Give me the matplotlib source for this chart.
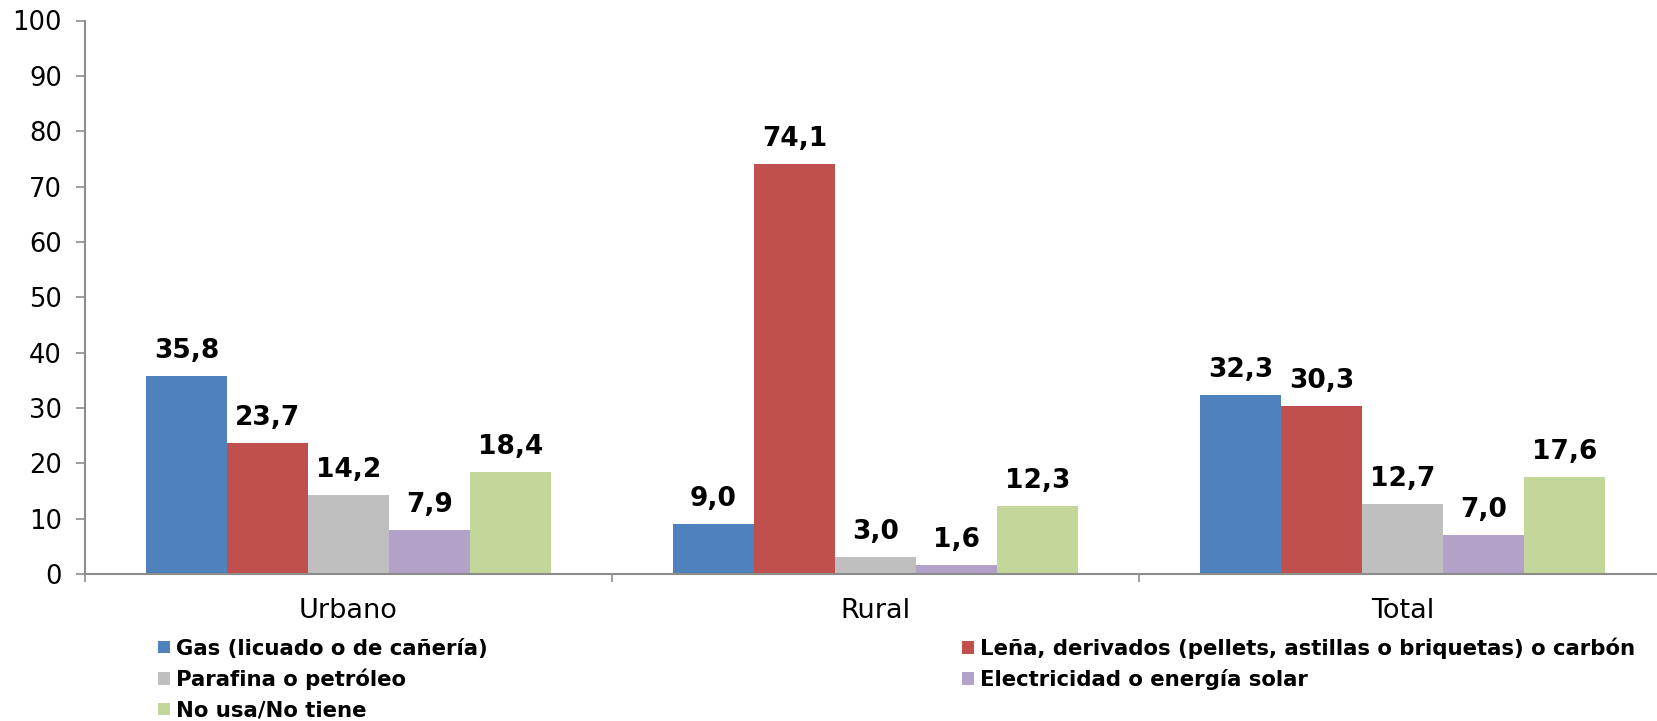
import numpy as np
import matplotlib.pyplot as plt
from matplotlib.patches import Patch

plt.rcParams['font.family'] = ['DejaVu Sans']

# data
categories = ["Urbano", "Rural", "Total"]
series_names = [
    "Gas (licuado o de cañería)",
    "Leña, derivados (pellets, astillas o briquetas) o carbón",
    "Parafina o petróleo",
    "Electricidad o energía solar",
    "No usa/No tiene",
]
gas = [35.8, 9.0, 32.3]
lena = [23.7, 74.1, 30.3]
parafina = [14.2, 3.0, 12.7]
electricidad = [7.9, 1.6, 7.0]
no_usa = [18.4, 12.3, 17.6]
colors = ["#4F81BD", "#C0504D", "#BFBFBF", "#B2A2C7", "#C4D79B"]

series = [gas, lena, parafina, electricidad, no_usa]

W, H = 1657, 721
fig = plt.figure(figsize=(W / 100, H / 100), dpi=100)
# plot area: x from 85px, one category = 527px (right part is cut off by the image edge)
ax = fig.add_axes([85 / W, 1 - 574 / H, 3 * 527 / W, (574 - 20.5) / H])

x = np.arange(len(categories))
w = 0.1537
for i, vals in enumerate(series):
    pos = x + (i - 2) * w
    bars = ax.bar(pos, vals, width=w, color=colors[i], edgecolor="none")
    for b, v in zip(bars, vals):
        ax.annotate(f"{v:.1f}".replace(".", ","), (b.get_x() + w / 2, v),
                    xytext=(0, 13), textcoords="offset points",
                    ha="center", va="baseline", fontsize=19, fontweight="bold")

ax.set_xlim(-0.5, 2.5)
ax.set_ylim(0, 100)
ax.set_yticks(range(0, 101, 10))
ax.tick_params(axis="y", labelsize=18.5, length=6.5, width=1.2, color="#8C8C8C", pad=10)

ax.set_xticks(x)
ax.set_xticklabels(categories, fontsize=19.5)
ax.tick_params(axis="x", length=0, pad=17)
ax.set_xticks([-0.5, 0.5, 1.5, 2.5], minor=True)
ax.tick_params(axis="x", which="minor", length=6, width=1.2, color="#8C8C8C")

for s in ["top", "right"]:
    ax.spines[s].set_visible(False)
for s in ["left", "bottom"]:
    ax.spines[s].set_color("#8C8C8C")
    ax.spines[s].set_linewidth(1.5)

# legend in two columns, placed separately
legend_kw = dict(loc="center left", frameon=False,
                 prop={"size": 15.3, "weight": "bold"},
                 handlelength=0.55, handleheight=0.55, handletextpad=0.3,
                 labelspacing=0.48, borderaxespad=0, borderpad=0)
col1 = [0, 2, 4]
col2 = [1, 3]
leg1 = fig.legend([Patch(facecolor=colors[i], edgecolor="none") for i in col1],
                  [series_names[i] for i in col1],
                  bbox_to_anchor=(158 / W, 1 - 679.5 / H), **legend_kw)
leg2 = fig.legend([Patch(facecolor=colors[i], edgecolor="none") for i in col2],
                  [series_names[i] for i in col2],
                  bbox_to_anchor=(962 / W, 1 - 664 / H), **legend_kw)

fig.savefig("out.png", dpi=100)
